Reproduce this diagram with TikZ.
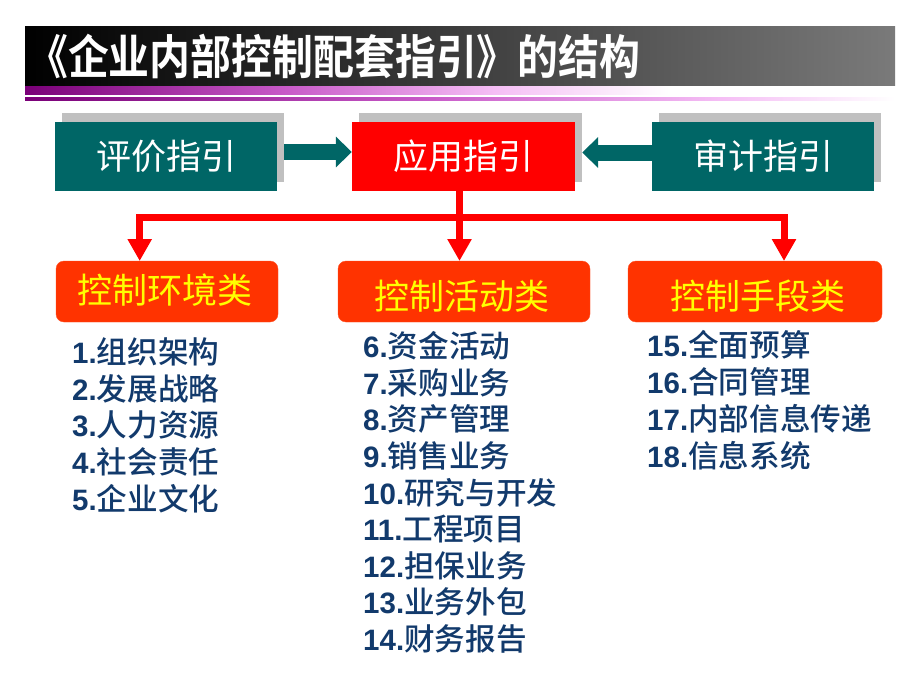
\documentclass[tikz,border=0pt]{standalone}
\usepackage{fontspec}
\setmainfont{Liberation Sans}
\newfontfamily\cjk{Noto Sans CJK SC}
\newfontfamily\cjkm{Noto Sans CJK SC Medium}
\newfontfamily\cjkb{Noto Sans CJK SC Bold}
\usetikzlibrary{arrows.meta,calc}
\definecolor{myteal}{RGB}{0,102,102}
\definecolor{shadowgray}{RGB}{192,192,192}
\definecolor{catorange}{RGB}{255,51,0}
\definecolor{caryellow}{RGB}{255,255,0}
\definecolor{navytext}{RGB}{18,58,108}
\definecolor{bargray}{RGB}{122,122,122}
\definecolor{pdark}{RGB}{122,0,120}
\definecolor{pmid}{RGB}{200,90,200}
\definecolor{plight}{RGB}{245,190,245}
\pgfdeclarehorizontalshading{purpA}{100bp}{color(0bp)=(pdark); color(25bp)=(pdark); color(40bp)=(pmid); color(52bp)=(plight); color(62bp)=(white); color(100bp)=(white)}
\pgfdeclarehorizontalshading{purpB}{100bp}{color(0bp)=(pdark); color(25bp)=(pdark); color(48bp)=(pmid); color(65bp)=(plight); color(75bp)=(white); color(100bp)=(white)}
\newcommand\itm[2]{\textbf{#1}{\cjkm\fontsize{30.6}{30}\selectfont #2}}
\begin{document}
\begin{tikzpicture}[x=1pt,y=-1pt,
  shadowbox/.style={fill=shadowgray, minimum width=222pt, minimum height=69pt, inner sep=0pt},
  topbox/.style={minimum width=222pt, minimum height=69pt, inner sep=0pt, text=white, font=\cjk\fontsize{35}{35}\selectfont},
  tealarrow/.style={draw=myteal, line width=16pt, -{Triangle[length=16pt,width=30pt]}},
  redline/.style={draw=red, line width=7pt},
  redarrow/.style={redline, -{Triangle[length=22pt,width=23pt]}},
  catbox/.style={fill=catorange, draw=catorange!85!white, rounded corners=8pt, inner sep=0pt, minimum height=61pt},
  cattext/.style={text=caryellow, inner sep=0pt, font=\cjk\fontsize{35}{35}\selectfont},
  item/.style={anchor=west, inner sep=0pt, text=navytext, font=\fontsize{29.5}{30}\selectfont}
]
\useasboundingbox (0,0) rectangle (920,690);
\fill[white] (0,0) rectangle (920,690);

% title bar
\node[minimum width=870pt, minimum height=59pt, inner sep=0pt, left color=black, right color=bargray, anchor=north west] (bar) at (25,26) {};
\node[anchor=west, inner sep=0pt, text=white, font=\cjkb\fontsize{47}{47}\selectfont] (title) at (27,56) {\scalebox{0.87}[1]{《企业内部控制配套指引》的结构}};
\shade[shading=purpA] (25,86.7) rectangle (895,95);
\shade[shading=purpB] (25,97.7) rectangle (895,101);

% top row
\node[shadowbox] (s1) at (173,147.5) {};
\node[shadowbox, minimum width=223pt] (s2) at (470.5,147.5) {};
\node[shadowbox] (s3) at (770,147.5) {};
\node[topbox, fill=myteal] (eval) at (166,156.5) {评价指引};
\node[topbox, fill=red, minimum width=223pt] (app) at (463.5,156.5) {应用指引};
\node[topbox, fill=myteal] (aud) at (763,156.5) {审计指引};

\draw[tealarrow] ($(eval.east)+(7,-4.5)$) -- ($(app.west)+(0,-4.5)$);
\draw[tealarrow] ($(aud.west)+(0,-4)$) -- ($(app.east)+(7,-4)$);

% category boxes
\node[catbox, minimum width=222pt] (cat1) at (167,291.5) {};
\node[catbox, minimum width=252pt] (cat2) at (464,291.5) {};
\node[catbox, minimum width=254pt] (cat3) at (755,291.5) {};
\node[cattext] (cat1t) at (165,290) {控制环境类};
\node[cattext] (cat2t) at (462,296) {控制活动类};
\node[cattext] (cat3t) at (758,296) {控制手段类};

% red connectors
\coordinate (hj) at (459.5,217);
\coordinate (a1) at (139.7,261);
\coordinate (a2) at (459.5,261);
\coordinate (a3) at (784,261);
\draw[redarrow] (hj) -| (a1);
\draw[redarrow] (hj) -| (a3);
\draw[redarrow] (hj |- app.south) -- (a2);

% lists
\node[item] (l1) at (72,352) {\itm{1.}{组织架构}};
\node[item] (l2) at (72,388.6) {\itm{2.}{发展战略}};
\node[item] (l3) at (72,425.2) {\itm{3.}{人力资源}};
\node[item] (l4) at (72,461.8) {\itm{4.}{社会责任}};
\node[item] (l5) at (72,498.4) {\itm{5.}{企业文化}};

\node[item] (l6) at (363,346) {\itm{6.}{资金活动}};
\node[item] (l7) at (363,382.6) {\itm{7.}{采购业务}};
\node[item] (l8) at (363,419.2) {\itm{8.}{资产管理}};
\node[item] (l9) at (363,455.8) {\itm{9.}{销售业务}};
\node[item] (l10) at (363,492.4) {\itm{10.}{研究与开发}};
\node[item] (l11) at (363,529) {\itm{11.}{工程项目}};
\node[item] (l12) at (363,565.6) {\itm{12.}{担保业务}};
\node[item] (l13) at (363,602.2) {\itm{13.}{业务外包}};
\node[item] (l14) at (363,638.8) {\itm{14.}{财务报告}};

\node[item] (l15) at (647,345) {\itm{15.}{全面预算}};
\node[item] (l16) at (647,381.9) {\itm{16.}{合同管理}};
\node[item] (l17) at (647,418.8) {\itm{17.}{内部信息传递}};
\node[item] (l18) at (647,455.7) {\itm{18.}{信息系统}};
\end{tikzpicture}
\end{document}
